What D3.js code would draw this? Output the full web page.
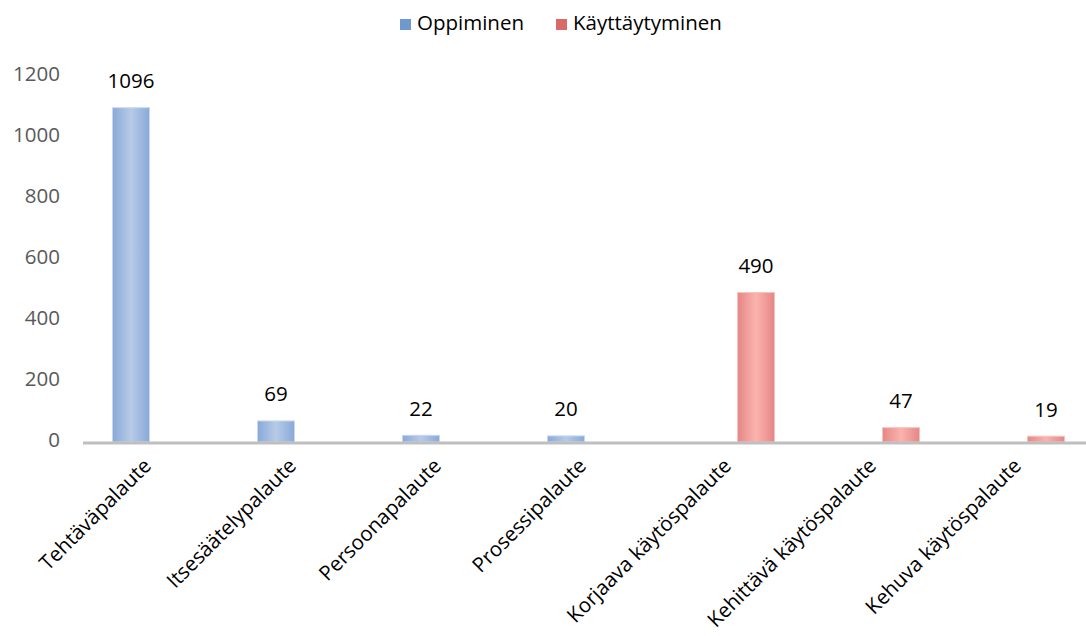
<!DOCTYPE html>
<html>
<head>
<meta charset="utf-8">
<script src="https://cdn.jsdelivr.net/npm/d3@7"></script>
<style>
  body { margin: 0; background: #fff; }
  text { font-family: "Open Sans", "DejaVu Sans", sans-serif; }
</style>
</head>
<body>
<div id="chart"></div>
<script>
var categories = ["Tehtäväpalaute", "Itsesäätelypalaute", "Persoonapalaute", "Prosessipalaute",
  "Korjaava käytöspalaute", "Kehittävä käytöspalaute", "Kehuva käytöspalaute"];
var seriesNames = ["Oppiminen", "Käyttäytyminen"];
var oppiminen = [1096, 69, 22, 20, null, null, null];
var kayttaytyminen = [null, null, null, null, 490, 47, 19];
var yTicks = [0, 200, 400, 600, 800, 1000, 1200];

var width = 1086, height = 636;
var fontSize = 20.5;

var svg = d3.select("#chart").append("svg")
  .attr("width", width)
  .attr("height", height);

var x = d3.scaleBand()
  .domain(categories)
  .range([83, 1098]);

// bars sit inside each category slot
var x1 = d3.scaleBand()
  .domain(seriesNames)
  .range([29, 112])
  .paddingInner(0.155);

var y = d3.scaleLinear()
  .domain([0, 1200])
  .range([442, 76]);

var defs = svg.append("defs");
var colors = {
  "Oppiminen": { edge: "#88a9d9", mid: "#b7cbe7", stroke: "#c9d8ef", legend: "#6f98cf" },
  "Käyttäytyminen": { edge: "#e48787", mid: "#fcb3ad", stroke: "#f6c2c0", legend: "#d86a6a" }
};
seriesNames.forEach(function(s, i) {
  var g = defs.append("linearGradient")
    .attr("id", "grad" + i)
    .attr("x1", 0).attr("x2", 1).attr("y1", 0).attr("y2", 0);
  g.append("stop").attr("offset", "0%").attr("stop-color", colors[s].edge);
  g.append("stop").attr("offset", "50%").attr("stop-color", colors[s].mid);
  g.append("stop").attr("offset", "100%").attr("stop-color", colors[s].edge);
});

// y axis labels
svg.append("g")
  .selectAll("text")
  .data(yTicks)
  .enter()
  .append("text")
  .attr("x", 60)
  .attr("y", function(d) { return y(d); })
  .attr("text-anchor", "end")
  .attr("dominant-baseline", "middle")
  .attr("font-size", fontSize)
  .attr("fill", "#595959")
  .text(function(d) { return d; });

var rows = [];
categories.forEach(function(c, i) {
  if (oppiminen[i] != null) rows.push({ cat: c, series: "Oppiminen", value: oppiminen[i], idx: 0 });
  if (kayttaytyminen[i] != null) rows.push({ cat: c, series: "Käyttäytyminen", value: kayttaytyminen[i], idx: 1 });
});

var bars = svg.append("g")
  .selectAll("g")
  .data(rows)
  .enter()
  .append("g")
  .attr("transform", function(d) { return "translate(" + [x(d.cat) + x1(d.series), 0] + ")"; });

bars.append("rect")
  .attr("x", 0.5)
  .attr("y", function(d) { return y(d.value); })
  .attr("width", x1.bandwidth() - 1)
  .attr("height", function(d) { return y(0) - y(d.value); })
  .attr("fill", function(d) { return "url(#grad" + d.idx + ")"; })
  .attr("stroke", function(d) { return colors[d.series].stroke; })
  .attr("stroke-width", 1);

bars.append("text")
  .attr("x", x1.bandwidth() / 2)
  .attr("y", function(d) { return y(d.value) - 25; })
  .attr("text-anchor", "middle")
  .attr("dominant-baseline", "middle")
  .attr("font-size", fontSize)
  .attr("fill", "#000")
  .text(function(d) { return d.value; });

// x axis line
svg.append("line")
  .attr("x1", 83)
  .attr("x2", 1098)
  .attr("y1", y(0) + 1)
  .attr("y2", y(0) + 1)
  .attr("stroke", "#bfbfbf")
  .attr("stroke-width", 3);

// category labels
svg.append("g")
  .selectAll("text")
  .data(categories)
  .enter()
  .append("text")
  .attr("text-anchor", "end")
  .attr("font-size", fontSize)
  .attr("fill", "#000")
  .attr("transform", function(d) {
    return "translate(" + [x(d) + x.bandwidth() / 2 - 3, 467] + ") rotate(-45)";
  })
  .text(function(d) { return d; });

// legend
var legendX = [400, 556];
var legend = svg.append("g")
  .selectAll("g")
  .data(seriesNames)
  .enter()
  .append("g")
  .attr("transform", function(d, i) { return "translate(" + [legendX[i], 0] + ")"; });

legend.append("rect")
  .attr("x", 0)
  .attr("y", 19)
  .attr("width", 11)
  .attr("height", 11)
  .attr("fill", function(d) { return colors[d].legend; });

legend.append("text")
  .attr("x", 17)
  .attr("y", 25)
  .attr("dominant-baseline", "middle")
  .attr("font-size", fontSize)
  .attr("fill", "#000")
  .text(function(d) { return d; });
</script>
</body>
</html>
